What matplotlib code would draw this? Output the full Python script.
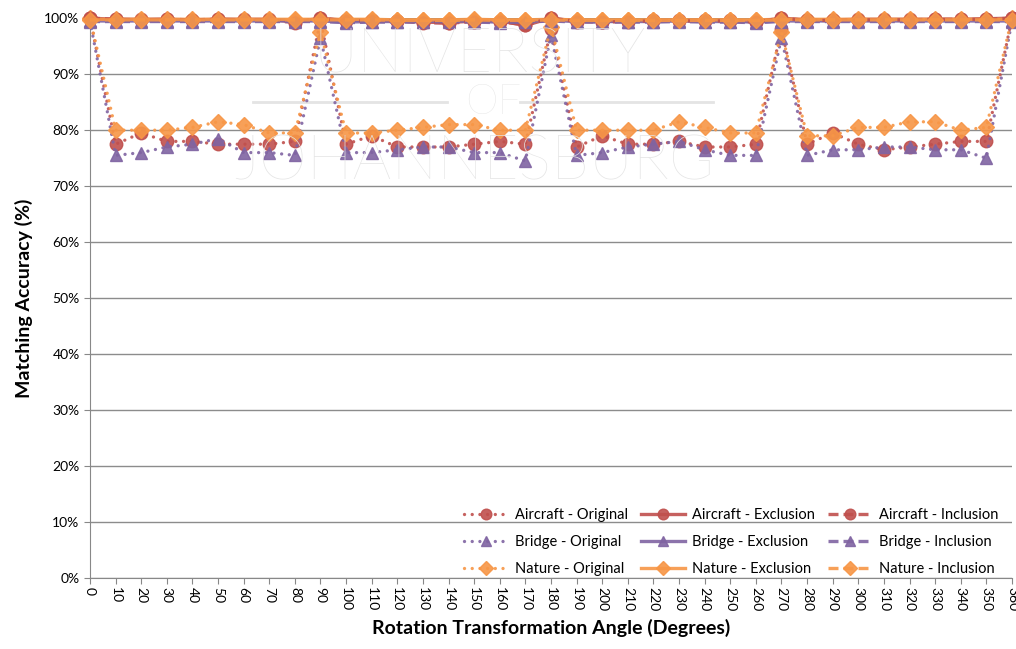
import matplotlib
matplotlib.use("Agg")
import matplotlib.pyplot as plt
from matplotlib.ticker import FuncFormatter
from matplotlib.lines import Line2D

angles = list(range(0, 361, 10))

aircraft_original = [100, 77.5, 79.5, 78, 78, 77.5, 77.5, 77.5, 78, 99.6,
                     77.5, 79, 77, 77, 77, 77.5, 78, 77.5, 98, 77,
                     79, 77.5, 77.5, 78, 77, 77, 77.5, 98, 77.5, 79.5,
                     77.5, 76.5, 77, 77.5, 78, 78, 100]
bridge_original = [99.5, 75.5, 76, 77, 77.5, 78.5, 76, 76, 75.5, 96.5,
                   76, 76, 76.5, 77, 77, 76, 76, 74.5, 97, 75.5,
                   76, 77, 77.5, 78, 76.5, 75.5, 75.5, 96.5, 75.5, 76.5,
                   76.5, 77, 77, 76.5, 76.5, 75, 99.5]
nature_original = [100, 80, 80, 80, 80.5, 81.5, 81, 79.5, 79.5, 97.5,
                   79.5, 79.5, 80, 80.5, 81, 81, 80, 80, 98.5, 80,
                   80, 80, 80, 81.5, 80.5, 79.5, 79.5, 97.5, 79, 79,
                   80.5, 80.5, 81.5, 81.5, 80, 80.5, 100]

aircraft_exclusion = [100, 99.8, 99.8, 99.8, 99.7, 99.8, 99.8, 99.8, 99.3, 100,
                      99.6, 99.6, 99.5, 99.3, 99.2, 99.5, 99.5, 98.7, 100, 99.5,
                      99.4, 99.5, 99.6, 99.6, 99.6, 99.6, 99.4, 100, 99.7, 99.7,
                      99.8, 99.8, 99.8, 99.8, 99.8, 99.9, 100]
aircraft_inclusion = [100, 99.8, 99.7, 99.8, 99.7, 99.8, 99.7, 99.7, 99.2, 100,
                      99.5, 99.5, 99.5, 99.2, 99.1, 99.4, 99.4, 98.8, 100, 99.4,
                      99.3, 99.4, 99.5, 99.5, 99.5, 99.5, 99.3, 100, 99.6, 99.6,
                      99.7, 99.7, 99.7, 99.8, 99.8, 99.8, 100]
bridge_exclusion = [99.5, 99.5, 99.5, 99.5, 99.5, 99.5, 99.5, 99.5, 99.5, 99.5,
                    99.3, 99.4, 99.4, 99.4, 99.5, 99.4, 99.3, 99.4, 99.6, 99.4,
                    99.4, 99.4, 99.4, 99.5, 99.4, 99.4, 99.3, 99.5, 99.5, 99.5,
                    99.5, 99.5, 99.5, 99.5, 99.5, 99.5, 99.5]
bridge_inclusion = [99.4, 99.4, 99.4, 99.4, 99.4, 99.4, 99.4, 99.4, 99.4, 99.4,
                    99.2, 99.3, 99.3, 99.3, 99.4, 99.3, 99.2, 99.3, 99.5, 99.3,
                    99.3, 99.3, 99.3, 99.4, 99.3, 99.3, 99.2, 99.4, 99.4, 99.4,
                    99.4, 99.4, 99.4, 99.4, 99.4, 99.4, 99.4]
nature_exclusion = [99.8, 99.8, 99.8, 99.8, 99.8, 99.8, 99.8, 99.8, 99.8, 99.8,
                    99.8, 99.8, 99.7, 99.7, 99.7, 99.8, 99.7, 99.7, 99.8, 99.7,
                    99.7, 99.7, 99.7, 99.7, 99.7, 99.7, 99.7, 99.8, 99.8, 99.8,
                    99.8, 99.8, 99.8, 99.8, 99.8, 99.8, 99.8]
nature_inclusion = [99.7, 99.7, 99.7, 99.7, 99.7, 99.7, 99.7, 99.7, 99.7, 99.7,
                    99.7, 99.7, 99.6, 99.6, 99.6, 99.7, 99.6, 99.6, 99.7, 99.6,
                    99.6, 99.6, 99.6, 99.6, 99.6, 99.6, 99.6, 99.7, 99.7, 99.7,
                    99.7, 99.7, 99.7, 99.7, 99.7, 99.7, 99.7]

colors = {"Aircraft": "#C0504D", "Bridge": "#8064A2", "Nature": "#F79646"}
markers = {"Aircraft": "o", "Bridge": "^", "Nature": "D"}
markersizes = {"Aircraft": 9, "Bridge": 9, "Nature": 8}

plt.rcParams['font.family'] = ['Lato', 'DejaVu Sans']

fig = plt.figure(figsize=(10.16, 6.49), dpi=100)
ax = fig.add_axes([0.0886, 0.109, 0.9074, 0.863])

# watermark
wm_color = "#e4e4e4"
fig.text(0.472, 0.915, "UNIVERSITY", fontsize=44, color=wm_color, ha="center",
         va="center", zorder=0, fontweight="light")
fig.text(0.485, 0.842, "OF", fontsize=30, color=wm_color, ha="center",
         va="center", zorder=0, fontweight="light")
fig.text(0.467, 0.75, "JOHANNESBURG", fontsize=44, color=wm_color, ha="center",
         va="center", zorder=0, fontweight="light")
fig.add_artist(Line2D([253 / 1016, 447 / 1016], [1 - 102 / 649] * 2,
                      color=wm_color, linewidth=2, zorder=0))
fig.add_artist(Line2D([520 / 1016, 713 / 1016], [1 - 102 / 649] * 2,
                      color=wm_color, linewidth=2, zorder=0))
ax.set_facecolor("none")

x = list(range(len(angles)))
series = [
    ("Aircraft - Original", aircraft_original, "Aircraft", ":"),
    ("Bridge - Original", bridge_original, "Bridge", ":"),
    ("Nature - Original", nature_original, "Nature", ":"),
    ("Aircraft - Exclusion", aircraft_exclusion, "Aircraft", "-"),
    ("Bridge - Exclusion", bridge_exclusion, "Bridge", "-"),
    ("Nature - Exclusion", nature_exclusion, "Nature", "-"),
    ("Aircraft - Inclusion", aircraft_inclusion, "Aircraft", "--"),
    ("Bridge - Inclusion", bridge_inclusion, "Bridge", "--"),
    ("Nature - Inclusion", nature_inclusion, "Nature", "--"),
]
draw_order = [0, 1, 2, 3, 6, 4, 7, 5, 8]
handles = {}
for i in draw_order:
    label, vals, grp, ls = series[i]
    (h,) = ax.plot(x, vals, linestyle=ls, color=colors[grp], marker=markers[grp],
                   markersize=markersizes[grp], linewidth=2.4, label=label,
                   clip_on=False, zorder=3 + i * 0.1, alpha=0.9)
    if ls == ":":
        h.set_dashes([0.01, 2.3])
        h.set_dash_capstyle("round")
    elif ls == "--":
        h.set_dashes([3, 1.5])
    handles[i] = h

ax.set_xlim(0, len(angles) - 1)
ax.set_ylim(0, 100)
ax.set_yticks(range(0, 101, 10))
ax.yaxis.set_major_formatter(FuncFormatter(lambda v, p: f"{int(v)}%"))
ax.set_xticks(x)
ax.set_xticklabels([str(a) for a in angles], rotation=-90, fontsize=10,
                   ha="center", va="top")
ax.tick_params(axis="y", labelsize=10, length=4, color="#888888")
ax.tick_params(axis="x", length=4, color="#888888", pad=2)
ax.grid(axis="y", color="#8c8c8c", linewidth=1)
ax.set_axisbelow(True)
for s in ["top", "right"]:
    ax.spines[s].set_visible(False)
for s in ["left", "bottom"]:
    ax.spines[s].set_color("#888888")

ax.set_xlabel("Rotation Transformation Angle (Degrees)", fontsize=14, fontweight="bold", labelpad=6)
ax.set_ylabel("Matching Accuracy (%)", fontsize=14, fontweight="bold", labelpad=8)

leg = ax.legend([handles[i] for i in range(9)], [series[i][0] for i in range(9)],
                ncol=3, loc="lower right", frameon=False, fontsize=10.5,
                handlelength=3.0, columnspacing=0.9, labelspacing=0.9,
                handletextpad=0.5, markerscale=0.85,
                bbox_to_anchor=(1.0, -0.02))

fig.savefig("out.png", dpi=100)
